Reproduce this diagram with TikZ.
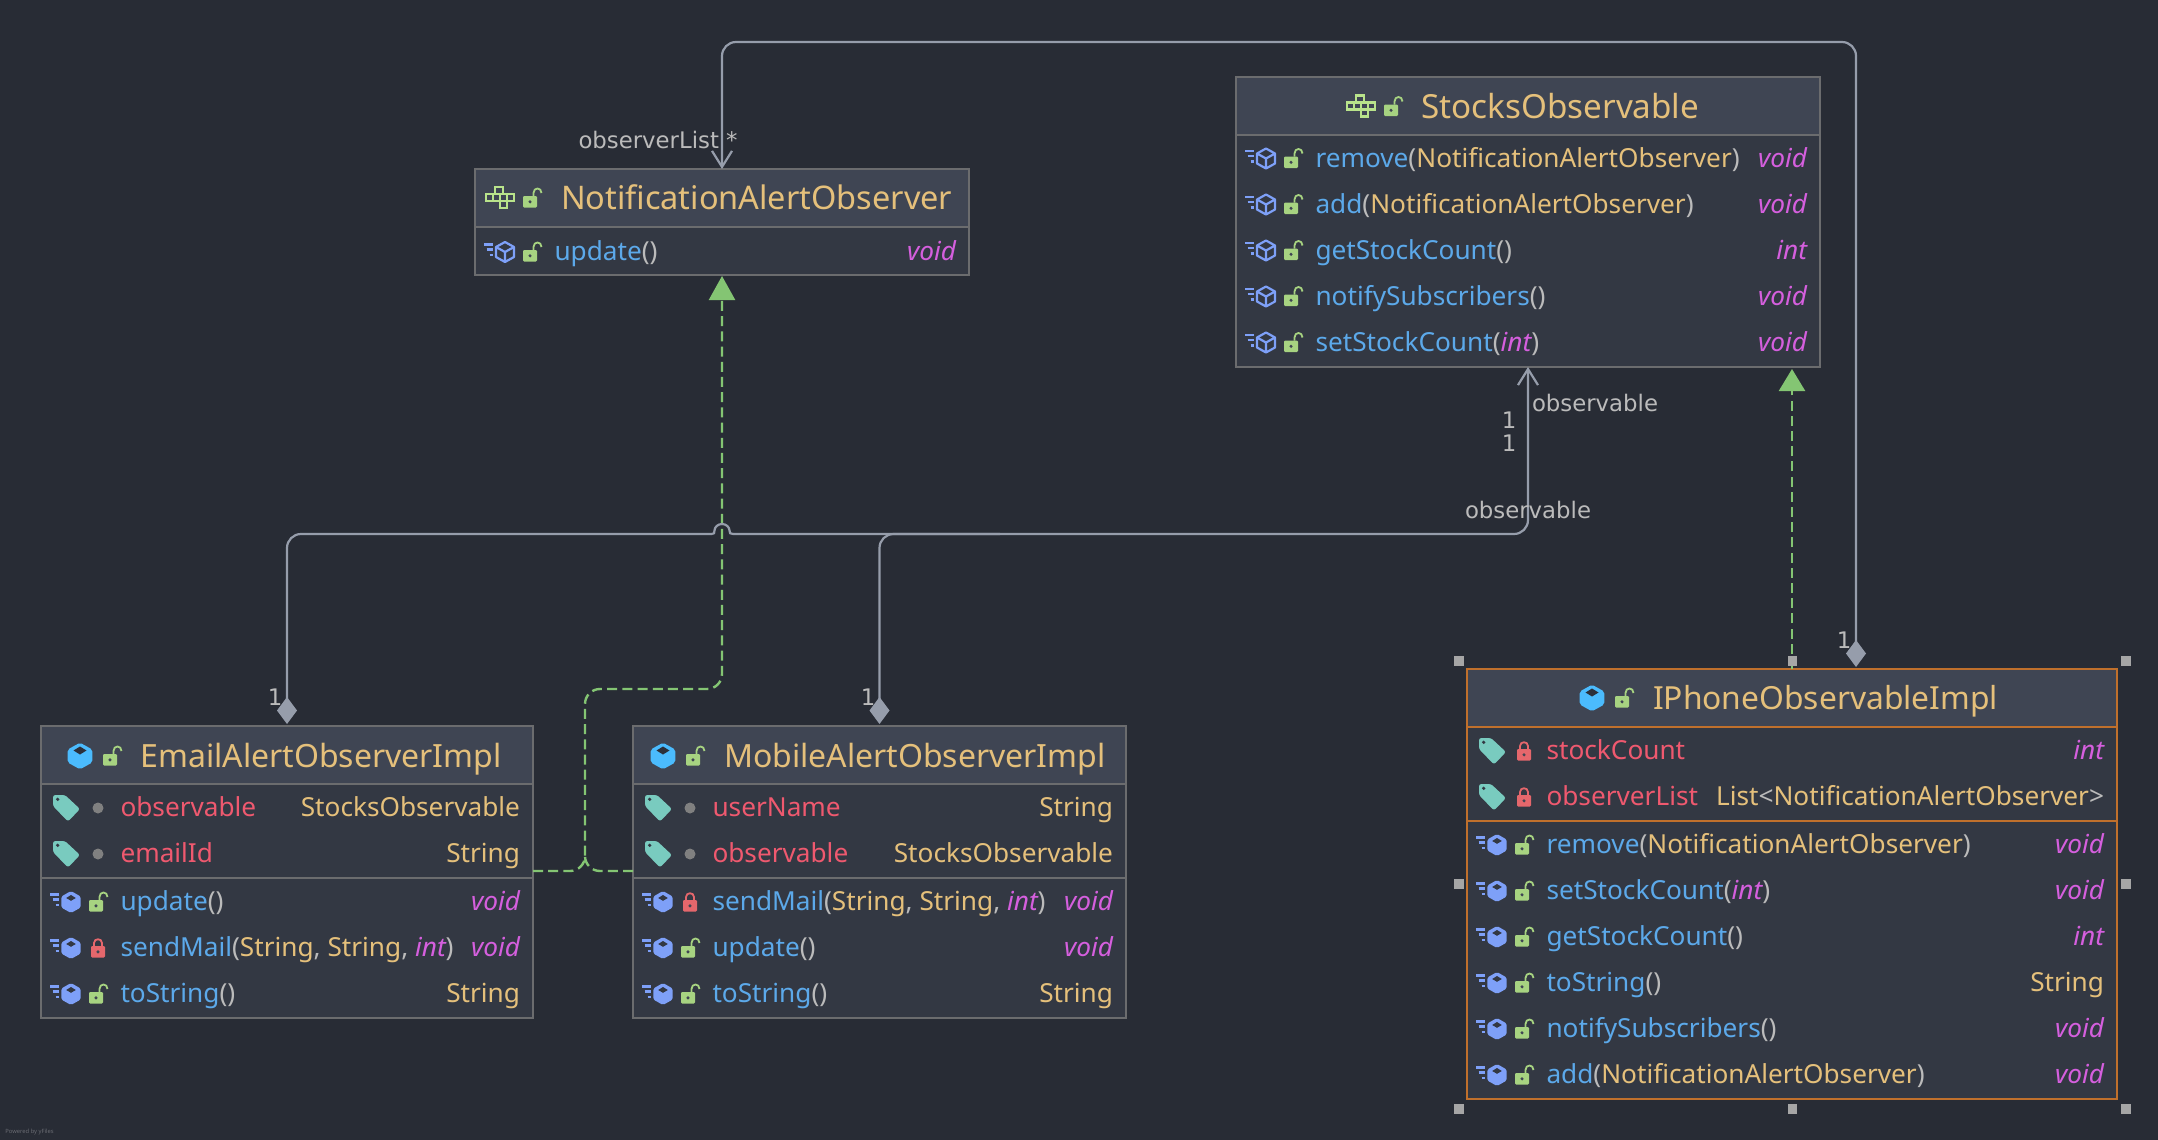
\documentclass[tikz,border=0pt]{standalone}
\usepackage{fontspec}
\setmainfont{Noto Sans}
\newfontfamily\edgefont{DejaVu Sans}
\usetikzlibrary{arrows.meta,calc}
\definecolor{bg}{HTML}{282C35}
\definecolor{hdr}{HTML}{3F4553}
\definecolor{body}{HTML}{333843}
\definecolor{frm}{HTML}{6B6C6E}
\definecolor{sel}{HTML}{C0702C}
\definecolor{ctitle}{HTML}{E5C07B}
\definecolor{cmeth}{HTML}{5CA9EA}
\definecolor{cfield}{HTML}{EF596F}
\definecolor{ckey}{HTML}{D55FDE}
\definecolor{cpar}{HTML}{BBBBBB}
\definecolor{cline}{HTML}{969DAB}
\definecolor{cgreen}{HTML}{84C573}
\definecolor{clock}{HTML}{A7D381}
\definecolor{clockp}{HTML}{E5676C}
\definecolor{cblue}{HTML}{7EA0F8}
\definecolor{ccyan}{HTML}{4BBBFD}
\definecolor{cteal}{HTML}{79CBBF}
\definecolor{cifc}{HTML}{B9E38B}
\definecolor{chandle}{HTML}{A6A6A6}
\newcounter{tn}
\tikzset{
  frame/.style={draw=frm,line width=1pt,fill=body,rectangle,inner sep=0pt,outer sep=0pt},
  lbl/.style={inner sep=0pt,outer sep=0pt,font=\fontsize{13.1}{15}\selectfont},
  ttl/.style={inner sep=0pt,outer sep=0pt,font=\fontsize{16}{19}\selectfont,text=ctitle,anchor=base west},
  edgelbl/.style={inner sep=0pt,outer sep=0pt,font=\edgefont\fontsize{11.4}{14}\selectfont,text=cpar},
  assoc/.style={draw=cline,line width=1.1pt,rounded corners=7pt},
  realize/.style={draw=cgreen,line width=1.2pt,rounded corners=7.5pt,dash pattern=on 5pt off 2.6pt},
  lockopen/.pic={
    \fill[clock,rounded corners=0.6pt] (-9,-2) rectangle (5,9.5);
    \fill[hdr] (-2,3.8) circle (1.7);
    \draw[clock,line width=.9pt] (1.5,-2) -- (1.5,-5) .. controls (1.5,-11) and (9.5,-11) .. (9.5,-5);
  },
  lockclosed/.pic={
    \fill[clockp,rounded corners=0.6pt] (-7,-2) rectangle (7,9.5);
    \fill[hdr] (0,3.8) circle (1.7);
    \draw[clockp,line width=.9pt] (-4,-2) -- (-4,-5) .. controls (-4,-10) and (4,-10) .. (4,-5) -- (4,-2);
  },
  tagicon/.pic={
    \fill[cteal,rounded corners=1.2pt] (-13,-13) -- (-1,-13) -- (14,1) -- (2,13.5) -- (-13,-2) -- cycle;
    \fill[body] (-8.3,-8.7) circle (1.8);
  },
  dimdot/.pic={\fill[gray] (0,0) circle (5.5);},
  thehex/.pic={
    \fill[ccyan,rounded corners=1pt] (0,-13.3) -- (12.3,-6.5) -- (12.3,6.5) -- (0,13.3) -- (-12.3,6.5) -- (-12.3,-6.5) -- cycle;
    \fill[hdr!70!black] (0,-9.5) -- (6.5,-5.5) -- (0,-1.5) -- (-6.5,-5.5) -- cycle;
  },
  speedlines/.pic={
    \draw[cblue,line width=1.1pt] (-21,-7.5) -- (-12,-7.5) (-18.5,-2.5) -- (-12,-2.5) (-15.5,3) -- (-12,3);
  },
  mfill/.pic={
    \pic at (0,0) {speedlines};
    \fill[cblue,rounded corners=.8pt] (0,-11) -- (9.7,-5.5) -- (9.7,5.5) -- (0,11) -- (-9.7,5.5) -- (-9.7,-5.5) -- cycle;
    \fill[body] (0,-7) -- (4.8,-4) -- (0,-1.2) -- (-4.8,-4) -- cycle;
  },
  mwire/.pic={
    \pic at (0,0) {speedlines};
    \draw[cblue,line width=1.1pt,line join=round] (0,-10) -- (9,-5) -- (9,5) -- (0,10) -- (-9,5) -- (-9,-5) -- cycle (-9,-5) -- (0,0) -- (9,-5) (0,0) -- (0,10);
  },
  ifcicon/.pic={
    \draw[cifc,line width=1.15pt]
      (-5,-4) rectangle (3,-11)
      (-14,-4) rectangle (14,3)
      (-7,-4) -- (-7,3) (0,-4) -- (0,3) (7,-4) -- (7,3)
      (0,3) rectangle (7,10);
  },
}
\newcommand{\lineleft}[3]{\stepcounter{tn}\node[lbl,anchor=base west] (tl\thetn) at (#1,#2) {#3};}
\newcommand{\lineright}[3]{\stepcounter{tn}\node[lbl,anchor=base east] (tr\thetn) at (#1,#2) {#3};}
\newcommand{\mrow}[7]{%
  \pic at (#1+30,#3) {#4};
  \pic at (#1+57,#3) {#5};
  \lineleft{#1+79.5}{#3+8.5}{#6}
  \lineright{#2-13}{#3+8.5}{#7}
}
\newcommand{\frow}[6]{%
  \pic at (#1+25,#3) {tagicon};
  \pic at (#1+57,#3) {#4};
  \lineleft{#1+79.5}{#3+8.5}{\textcolor{cfield}{#5}}
  \lineright{#2-13}{#3+8.5}{#6}
}
\newcommand{\cm}[1]{\textcolor{cmeth}{#1}}
\newcommand{\ct}[1]{\textcolor{ctitle}{#1}}
\newcommand{\cp}[1]{\textcolor{cpar}{\bfseries #1}}
\newcommand{\cq}[1]{\textcolor{cpar}{#1}}
\newcommand{\ci}[1]{\textcolor{ckey}{\itshape #1}}
\newcommand{\cbox}[6]{%
  \node[frame,draw=#6,minimum width={(#4-#2)*0.5pt},minimum height={(#5-#3)*0.5pt}] (#1) at ({(#2+#4)/2},{(#3+#5)/2}) {};
}
\newcommand{\chead}[5]{%
  \fill[hdr] (#1+1,#2+1) rectangle (#3-1,#4);
  \draw[#5,line width=1pt] (#1,#4) -- (#3,#4);
}
\newcommand{\hnd}[2]{\fill[chandle] (#1-4.7,#2-4.7) rectangle (#1+4.7,#2+4.7);}
\begin{document}
\begin{tikzpicture}[x=0.5pt,y=-0.5pt]
\fill[bg] (0,0) rectangle (2158,1140);
\useasboundingbox (0,0) rectangle (2158,1140);

% boxes
\cbox{nao}{475}{169}{969}{275}{frm}
\chead{475}{169}{969}{227}{frm}
\cbox{stk}{1236}{77}{1820}{367}{frm}
\chead{1236}{77}{1820}{135}{frm}
\cbox{eml}{41}{726}{533}{1018}{frm}
\chead{41}{726}{533}{784}{frm}
\draw[frm,line width=1pt] (41,878) -- (533,878);
\cbox{mob}{633}{726}{1126}{1018}{frm}
\chead{633}{726}{1126}{784}{frm}
\draw[frm,line width=1pt] (633,878) -- (1126,878);
\cbox{iph}{1467}{669}{2117}{1099}{sel}
\chead{1467}{669}{2117}{727}{sel}
\draw[sel,line width=1pt] (1467,821) -- (2117,821);

% connector waypoints
\coordinate (jun) at (585,871);
\coordinate (toprow) at (0,42);
\coordinate (iphtop) at (1856,667);
\coordinate (mid) at (0,534);
\coordinate (jl) at (712,534);
\coordinate (jt) at (722,524);
\coordinate (jr) at (733,534);
\coordinate (gup) at (585,689);

% realizations
\draw[realize,-{Triangle[length=12pt,width=13pt,fill=cgreen,sep=0pt]}] (eml.east |- jun) -- (jun) -- (gup) -- (nao.south |- gup) -- ([yshift=-0.5pt]nao.south);
\draw[realize] (mob.west |- jun) -- (jun) -- (585,862);
\draw[realize,-{Triangle[length=11pt,width=13pt,fill=cgreen]}] (iph.north) -- ([yshift=-1pt]iph.north |- stk.south);

% associations
\tikzset{dtip/.tip={Diamond[length=13.5pt,width=10pt,fill=cline]},btip/.tip={Straight Barb[length=8pt,width=10pt,line width=1.1pt]}}
\draw[assoc,dtip-btip] (iphtop) -- (iphtop |- toprow) -- (nao.north |- toprow) -- (nao.north);
\draw[assoc,dtip-,shorten <=1pt] (eml.north) -- (eml.north |- mid) -- (jl);
\draw[cline,line width=1.1pt] (jl) .. controls (714,534) and (714.5,533) .. (714.5,530.5) .. controls (714.5,527) and (718,524) .. (jt) .. controls (726,524) and (729.5,527) .. (729.5,530.5) .. controls (729.5,533) and (730,534) .. (jr);
\draw[assoc,-btip] (jr) -- (stk.south |- mid) -- (stk.south);
\draw[assoc,dtip-,shorten <=1pt] (mob.north) -- (mob.north |- mid) -- (1000,534);

% edge labels
\node[edgelbl,anchor=base west] (lol) at (578.5,148) {observerList};
\node[edgelbl,anchor=base west] (lst) at (726,148) {*};
\node[edgelbl,anchor=base west] (lob1) at (1532,411) {observable};
\node[edgelbl,anchor=base west] (lob2) at (1465,518) {observable};
\node[edgelbl] (lo1) at (1509,420) {1};
\node[edgelbl] (lo2) at (1509,443) {1};
\node[edgelbl] (le1) at (275,697) {1};
\node[edgelbl] (lm1) at (868,697) {1};
\node[edgelbl] (li1) at (1844,640) {1};

% NotificationAlertObserver
\pic at (500,198) {ifcicon};
\pic at (532,198) {lockopen};
\node[ttl,font=\fontsize{16.25}{19}\selectfont] (tnao) at (561,209.5) {NotificationAlertObserver};
\mrow{475}{969}{252}{mwire}{lockopen}{\cm{update}\cp{()}}{\ci{void}}

% StocksObservable
\pic at (1361,106.5) {ifcicon};
\pic at (1393,106.5) {lockopen};
\node[ttl,font=\fontsize{16.6}{19}\selectfont] (tstk) at (1421.5,118) {StocksObservable};
\mrow{1236}{1820}{158.5}{mwire}{lockopen}{\cm{remove}\cp{(}\ct{NotificationAlertObserver}\cp{)}}{\ci{void}}
\mrow{1236}{1820}{204.5}{mwire}{lockopen}{\cm{add}\cp{(}\ct{NotificationAlertObserver}\cp{)}}{\ci{void}}
\mrow{1236}{1820}{250.5}{mwire}{lockopen}{\cm{getStockCount}\cp{()}}{\ci{int}}
\mrow{1236}{1820}{296.5}{mwire}{lockopen}{\cm{notifySubscribers}\cp{()}}{\ci{void}}
\mrow{1236}{1820}{342.5}{mwire}{lockopen}{\cm{setStockCount}\cp{(}\ci{int}\cp{)}}{\ci{void}}

% EmailAlertObserverImpl
\pic at (80,756) {thehex};
\pic at (112,756) {lockopen};
\node[ttl] (teml) at (140.5,767.5) {EmailAlertObserverImpl};
\frow{41}{533}{808}{dimdot}{observable}{\ct{StocksObservable}}
\frow{41}{533}{854}{dimdot}{emailId}{\ct{String}}
\mrow{41}{533}{902}{mfill}{lockopen}{\cm{update}\cp{()}}{\ci{void}}
\mrow{41}{533}{948}{mfill}{lockclosed}{\cm{sendMail}\cp{(}\ct{String}\cq{, }\ct{String}\cq{, }\ci{int}\cq{)}}{\ci{void}}
\mrow{41}{533}{994}{mfill}{lockopen}{\cm{toString}\cp{()}}{\ct{String}}

% MobileAlertObserverImpl
\pic at (663,756) {thehex};
\pic at (695,756) {lockopen};
\node[ttl] (tmob) at (724,767.5) {MobileAlertObserverImpl};
\frow{633}{1126}{808}{dimdot}{userName}{\ct{String}}
\frow{633}{1126}{854}{dimdot}{observable}{\ct{StocksObservable}}
\mrow{633}{1126}{902}{mfill}{lockclosed}{\cm{sendMail}\cp{(}\ct{String}\cq{, }\ct{String}\cq{, }\ci{int}\cq{)}}{\ci{void}}
\mrow{633}{1126}{948}{mfill}{lockopen}{\cm{update}\cp{()}}{\ci{void}}
\mrow{633}{1126}{994}{mfill}{lockopen}{\cm{toString}\cp{()}}{\ct{String}}

% IPhoneObservableImpl
\pic at (1592,698) {thehex};
\pic at (1624,698) {lockopen};
\node[ttl,font=\fontsize{15.9}{19}\selectfont] (tiph) at (1653,709.5) {IPhoneObservableImpl};
\frow{1467}{2117}{751}{lockclosed}{stockCount}{\ci{int}}
\frow{1467}{2117}{797}{lockclosed}{observerList}{\ct{List}\cq{<}\ct{NotificationAlertObserver}\cq{>}}
\mrow{1467}{2117}{845}{mfill}{lockopen}{\cm{remove}\cp{(}\ct{NotificationAlertObserver}\cp{)}}{\ci{void}}
\mrow{1467}{2117}{891}{mfill}{lockopen}{\cm{setStockCount}\cp{(}\ci{int}\cp{)}}{\ci{void}}
\mrow{1467}{2117}{937}{mfill}{lockopen}{\cm{getStockCount}\cp{()}}{\ci{int}}
\mrow{1467}{2117}{983}{mfill}{lockopen}{\cm{toString}\cp{()}}{\ct{String}}
\mrow{1467}{2117}{1029}{mfill}{lockopen}{\cm{notifySubscribers}\cp{()}}{\ci{void}}
\mrow{1467}{2117}{1075}{mfill}{lockopen}{\cm{add}\cp{(}\ct{NotificationAlertObserver}\cp{)}}{\ci{void}}

% selection handles
\hnd{1459}{661}\hnd{1792.5}{661}\hnd{2126}{661}
\hnd{1459}{884}\hnd{2126}{884}
\hnd{1459}{1109}\hnd{1792.5}{1109}\hnd{2126}{1109}

\node[inner sep=0pt,anchor=base west,text=white!30!bg,font=\fontsize{2.9}{3}\selectfont] (pow) at (5,1133) {Powered by yFiles};
\end{tikzpicture}
\end{document}
